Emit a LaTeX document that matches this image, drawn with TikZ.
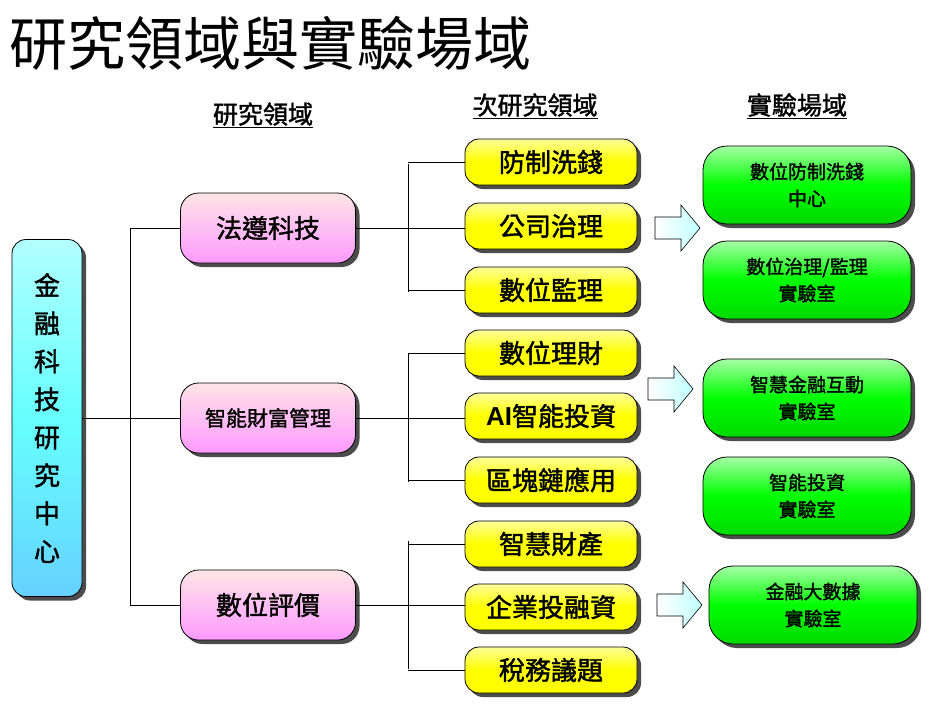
\documentclass[tikz,border=0pt]{standalone}
\usepackage{fontspec}
\setmainfont{Noto Sans CJK TC}[AutoFakeBold=1.5]
\newfontfamily\latinb{Liberation Sans}[BoldFont={Liberation Sans Bold}]
\usetikzlibrary{shadows}
\begin{document}
\begin{tikzpicture}[x=1pt,y=-1pt,
 shd/.style={drop shadow={shadow xshift=4pt,shadow yshift=-4pt,fill=black!70,opacity=1}},
 base/.style={draw=black,line width=0.8pt,rounded corners=18pt,align=center,shd},
 pinkn/.style={base,minimum width=175pt,minimum height=70pt,top color=pink!40,bottom color=magenta!40,font=\fontsize{26}{30}\selectfont\bfseries},
 yel/.style={base,rounded corners=14pt,minimum width=172pt,minimum height=46pt,top color=yellow!40,bottom color=yellow,middle color=yellow,font=\fontsize{26}{28}\selectfont\bfseries},
 grn/.style={base,rounded corners=24pt,minimum width=208pt,minimum height=78pt,top color=green!35,bottom color=green!85!black,middle color=green,font=\fontsize{19}{27}\selectfont\bfseries},
 hdr/.style={font=\fontsize{25}{28}\selectfont\bfseries},
 barr/.style={draw=black,line width=0.6pt,left color=white,right color=cyan!25},
 ln/.style={line width=0.7pt}]
\useasboundingbox (0,0) rectangle (939,715);
\node[anchor=west,font=\fontsize{58}{62}\selectfont] (title) at (6,43) {研究領域與實驗場域};
\node[hdr] (h1) at (263,115) {\underline{研究領域}};
\node[hdr] (h2) at (535,106) {\underline{次研究領域}};
\node[hdr] (h3) at (797,106) {\underline{實驗場域}};
\node[base,rounded corners=14pt,minimum width=70pt,minimum height=357pt,top color=cyan!30,bottom color=cyan!70!blue!60,middle color=cyan!60,font=\fontsize{26}{38}\selectfont\bfseries] (c) at (47,418) {金\\融\\科\\技\\研\\究\\中\\心};
\node[pinkn] (p1) at (268,228) {法遵科技};
\node[pinkn,font=\fontsize{21}{24}\selectfont\bfseries] (p2) at (268,418) {智能財富管理};
\node[pinkn] (p3) at (268,605) {數位評價};
\node[yel] (y1) at (551,162) {防制洗錢};
\node[yel] (y2) at (551,226) {公司治理};
\node[yel] (y3) at (551,290) {數位監理};
\node[yel] (y4) at (551,353) {數位理財};
\node[yel] (y5) at (551,416) {{\latinb\bfseries AI}智能投資};
\node[yel] (y6) at (551,480) {區塊鏈應用};
\node[yel] (y7) at (551,544) {智慧財產};
\node[yel] (y8) at (551,607) {企業投融資};
\node[yel] (y9) at (551,670) {稅務議題};
\node[grn] (g1) at (807,185) {數位防制洗錢\\中心};
\node[grn] (g2) at (807,280) {數位治理/監理\\實驗室};
\node[grn] (g3) at (807,398) {智慧金融互動\\實驗室};
\node[grn] (g4) at (807,496) {智能投資\\實驗室};
\node[grn] (g5) at (813,605) {金融大數據\\實驗室};
\foreach \x/\y in {655/228,648/389,657/605}
 \path[barr] (\x,\y-11) -- (\x+26,\y-11) -- (\x+26,\y-23) -- (\x+45,\y) -- (\x+26,\y+23) -- (\x+26,\y+11) -- (\x,\y+11) -- cycle;
\coordinate (j0) at (130,418);
\draw[ln] (c.east) -- (j0);
\draw[ln] (130,228) -- (130,605);
\foreach \p/\y in {p1/228,p2/418,p3/605} \draw[ln] (130,\y) -- (\p.west);
\foreach \p/\y in {p1/228,p2/418,p3/605}{
 \draw[ln] (\p.east) -- (465,\y);
 \draw[ln] (408,\y-64) -- (408,\y+64);}
\foreach \n/\y in {y1/162,y3/290,y4/353,y6/480,y7/544,y9/670} \draw[ln] (408,\y) -- (\n.west);
\end{tikzpicture}
\end{document}
